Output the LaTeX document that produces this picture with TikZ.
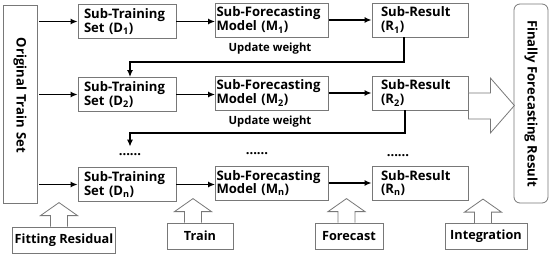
\documentclass[tikz,border=0pt]{standalone}
\usepackage{fontspec}
\setmainfont{Open Sans}
\usetikzlibrary{positioning,calc,arrows.meta}
\definecolor{boxgray}{RGB}{120,120,120}
\newcommand{\boxfont}{\fontsize{13.1pt}{13.8pt}\selectfont\bfseries}
\newcommand{\tagfont}{\fontsize{12.7pt}{14pt}\selectfont\bfseries}
\newcommand{\notefont}{\fontsize{11.3pt}{13pt}\selectfont\bfseries}

\tikzset{
  stagebox/.style={draw=boxgray, line width=0.8pt, minimum height=34pt, inner ysep=2pt, align=left, font=\boxfont},
  trainbox/.style={stagebox, text width=86pt, inner xsep=6pt},
  modelbox/.style={stagebox, text width=111pt, inner xsep=1pt},
  resultbox/.style={stagebox, text width=78pt, inner xsep=9pt},
  sidebox/.style={draw=boxgray, line width=0.8pt, rotate=-90, minimum height=34pt, font=\boxfont},
  tagbox/.style={draw=boxgray, line width=0.8pt, minimum height=26pt, inner sep=2pt, font=\tagfont},
  flow/.style={-{Latex[length=7pt,width=6pt]}, line width=1.8pt},
  hollow/.style={draw=boxgray, line width=0.8pt, fill=white},
  dotsnode/.style={inner sep=7pt, font=\boxfont},
}

\begin{document}
\begin{tikzpicture}[x=1pt,y=1pt]
\useasboundingbox (0,0) rectangle (550,255);

% input and output columns
\node[sidebox, text width=132pt, inner xsep=33pt, align=left] (orig) at (20,151) {Original Train Set};
\node[sidebox, rounded corners=6pt, minimum width=199pt] (final) at (531,151.5) {Finally Forecasting Result};

% one row per sub-model
\foreach \k/\y in {1/235, 2/162, n/72} {
  \node[trainbox] (d\k) at (127,\y-1.5) {Sub-Training\\Set (D\textsubscript{\k})};
  \node[modelbox] (m\k) at (272,\y) {\mbox{Sub-Forecasting}\\Model (M\textsubscript{\k})};
  \node[resultbox] (r\k) at (420,\y) {Sub-Result\\(R\textsubscript{\k})};
  \draw[flow, shorten <=2pt] (orig.north |- d\k) -- (d\k.west);
  \draw[flow] (d\k.east) -- (d\k.east -| m\k.west);
  \draw[flow] (m\k.east) -- (m\k.east -| r\k.west);
}

\node[dotsnode] (dotsd) at (130,100) {......};
\node[dotsnode] (dotsm) at (257,101) {......};
\node[dotsnode] (dotsr) at (398,99) {......};

% weight feedback
\draw[flow] ([xshift=-16pt]r1.south) -- ++(0,-25) -| ([xshift=3pt]d2.north);
\draw[flow] ([xshift=-15pt]r2.south) -- ++(0,-23) -| (dotsd.north);
\node[font=\notefont] (upd1) at (270,206) {Update weight};
\node[font=\notefont] (upd2) at (270,133) {Update weight};

% integration arrow
\draw[hollow] (r2.east) -- ++(22,0) -- ++(0,15) -- ++(24,-27.5) -- ++(-24,-27.5) -- ++(0,14) -- ++(-22,0) -- cycle;

% stage tags
\node[tagbox, minimum width=102pt] (fitres) at (64,15) {Fitting Residual};
\node[tagbox, minimum width=66pt] (trainlbl) at (200,19) {Train};
\node[tagbox, minimum width=68pt] (forecastlbl) at (349,19) {Forecast};
\node[tagbox, minimum width=82pt] (integlbl) at (486,18.5) {Integration};

\foreach \tag/\dx in {fitres/-5, trainlbl/-7, forecastlbl/-2.5, integlbl/-3}
  \draw[hollow] ([xshift=\dx*1pt-8.5pt]\tag.north) -- ++(0,11) -- ++(-10,0) -- ++(18.5,13) -- ++(18.5,-13) -- ++(-10,0) -- ++(0,-11);
\end{tikzpicture}
\end{document}
